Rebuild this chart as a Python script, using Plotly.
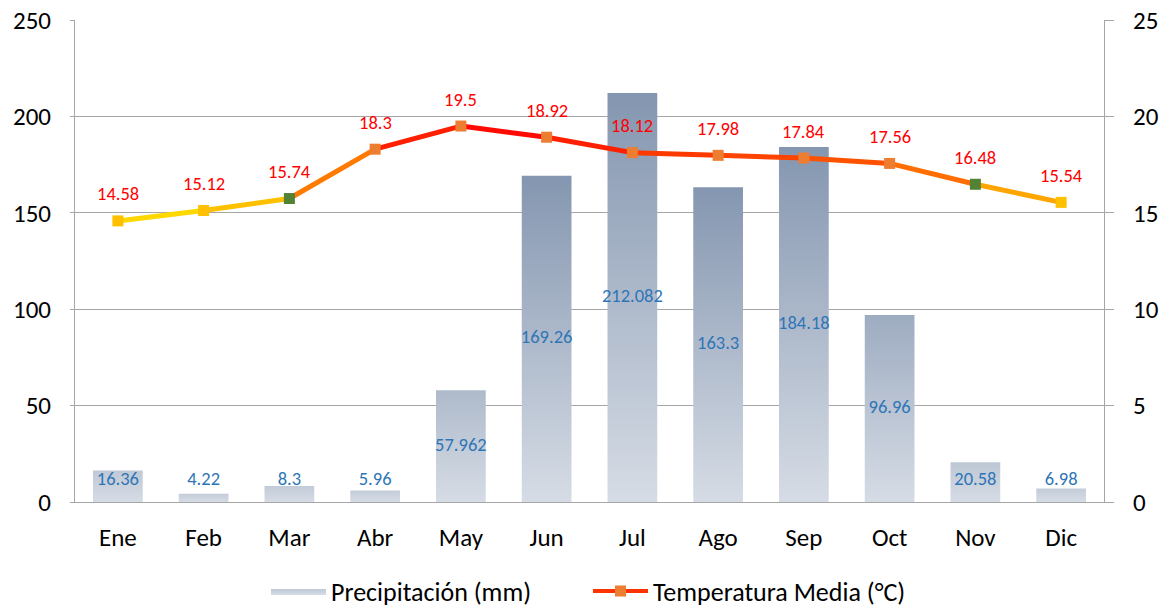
import plotly.graph_objects as go

# ---------------- data ----------------
months = ["Ene", "Feb", "Mar", "Abr", "May", "Jun", "Jul", "Ago", "Sep", "Oct", "Nov", "Dic"]
precip = [16.36, 4.22, 8.3, 5.96, 57.962, 169.26, 212.082, 163.3, 184.18, 96.96, 20.58, 6.98]
temp = [14.58, 15.12, 15.74, 18.3, 19.5, 18.92, 18.12, 17.98, 17.84, 17.56, 16.48, 15.54]

# ---------------- styles ----------------
FONT = "Carlito, Lato, Calibri, sans-serif"
LIGHT = (214, 220, 229)
DARK = (132, 150, 176)
BAR_HALF = 0.29
GRID = "#A6A6A6"
seg_colors = ["#FFD800", "#FFC000", "#FF7A00", "#FF2000", "#FF0A00", "#FF2000",
              "#FF3A00", "#FF4400", "#FF5200", "#FF6E00", "#FFA500"]
marker_colors = ["#FFC000", "#FFC000", "#548235", "#ED7D31", "#ED7D31", "#ED7D31",
                 "#ED7D31", "#ED7D31", "#ED7D31", "#ED7D31", "#548235", "#FFC000"]


def mix(t):
    c = [round(LIGHT[k] + (DARK[k] - LIGHT[k]) * t) for k in range(3)]
    return "rgb(%d,%d,%d)" % tuple(c)


fig = go.Figure()

# bars as gradient-filled shapes
for i, v in enumerate(precip):
    t = min(1.0, 0.2 + v / 200.0)
    fig.add_trace(go.Scatter(
        x=[i - BAR_HALF, i + BAR_HALF, i + BAR_HALF, i - BAR_HALF, i - BAR_HALF],
        y=[0, 0, v, v, 0],
        mode="lines", fill="toself",
        line=dict(width=0, color=mix(0.5)),
        fillcolor=mix(0.5),
        fillgradient=dict(type="vertical", start=0, stop=v,
                          colorscale=[[0, mix(0)], [1, mix(t)]]),
        name="Precipitación (mm)", legendgroup="p",
        showlegend=(i == 0), hoverinfo="skip",
    ))

# bar value labels
fig.add_trace(go.Scatter(
    x=list(range(len(months))), y=[max(v / 2, 11) for v in precip],
    mode="text", text=[f"{v:g}" for v in precip],
    textfont=dict(family=FONT, size=18.5, color="#2E75B6"),
    showlegend=False, hoverinfo="skip",
))

# temperature line, segment by segment
for i in range(len(temp) - 1):
    fig.add_trace(go.Scatter(
        x=[i, i + 1], y=[temp[i], temp[i + 1]], yaxis="y2",
        mode="lines", line=dict(color=seg_colors[i], width=5),
        showlegend=False, hoverinfo="skip",
    ))

fig.add_trace(go.Scatter(
    x=list(range(len(months))), y=temp, yaxis="y2", mode="markers",
    marker=dict(symbol="square", size=11, color=marker_colors, line=dict(width=0)),
    showlegend=False,
))

# legend entry for temperature
fig.add_trace(go.Scatter(
    x=[None], y=[None], yaxis="y2", mode="lines+markers",
    line=dict(color="#FF3300", width=4),
    marker=dict(symbol="square", size=11, color="#ED7D31"),
    name="Temperatura Media (°C)",
))

for i, v in enumerate(temp):
    fig.add_annotation(x=i, y=v, xref="x", yref="y2", text=f"{v:g}",
                       showarrow=False, yshift=27,
                       font=dict(family=FONT, size=18.5, color="#FF0000"))

fig.update_layout(
    width=1164, height=608,
    margin=dict(l=75, r=60, t=20, b=106, autoexpand=False),
    paper_bgcolor="white", plot_bgcolor="white",
    font=dict(family=FONT, size=20, color="#000000"),
    xaxis=dict(
        range=[-0.5, 11.5], tickmode="array",
        tickvals=list(range(len(months))), ticktext=months,
        showgrid=False, zeroline=False, showline=True, linecolor=GRID,
        ticks="", tickfont=dict(size=25), ticklabelstandoff=13, automargin=False,
    ),
    yaxis=dict(
        range=[0, 250], tickvals=[0, 50, 100, 150, 200, 250],
        showgrid=True, gridcolor=GRID, zeroline=False,
        showline=True, linecolor=GRID, ticks="outside", ticklen=4, tickcolor=GRID,
        tickfont=dict(size=25), ticklabelstandoff=14, automargin=False,
    ),
    yaxis2=dict(
        range=[0, 25], tickvals=[0, 5, 10, 15, 20, 25], overlaying="y", side="right",
        showgrid=False, zeroline=False,
        showline=True, linecolor=GRID, ticks="outside", ticklen=9, tickcolor=GRID,
        tickfont=dict(size=25), ticklabelstandoff=14, automargin=False,
    ),
    legend=dict(orientation="h", xref="container", x=266 / 1164, xanchor="left",
                yref="container", y=0.028, yanchor="middle",
                font=dict(size=26), itemwidth=55, entrywidth=252,
                traceorder="normal"),
    showlegend=True,
)

fig.write_html("out.html", post_script="document.body.style.margin='0';",
               config={"displayModeBar": False})
